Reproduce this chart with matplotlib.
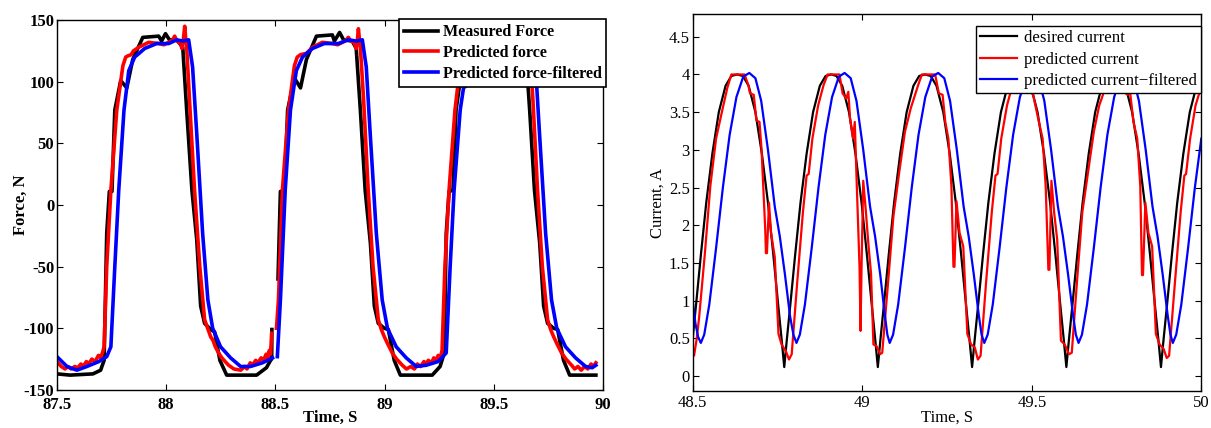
import numpy as np
import matplotlib

matplotlib.use("Agg")
import matplotlib.pyplot as plt

nan = np.nan

# ---- left panel: force (time s, force N) ----
force_measured = [
    (87.500, -137), (87.560, -138), (87.665, -137), (87.700, -134), (87.716, -126),
    (87.728, -23), (87.740, 11), (87.752, 11), (87.765, 77), (87.792, 101),
    (87.820, 95), (87.847, 118), (87.893, 136), (87.966, 137), (87.979, 133),
    (87.997, 139), (88.015, 134), (88.048, 134), (88.076, 128), (88.094, 77),
    (88.118, 12), (88.140, -28), (88.158, -82), (88.176, -96), (88.204, -101),
    (88.222, -103), (88.246, -126), (88.277, -138), (88.414, -138), (88.459, -132),
    (88.478, -126), (88.483, -125), (88.484, -101), (88.495, nan),
    (88.512, -60), (88.523, 11), (88.542, 11), (88.556, 77), (88.587, 103),
    (88.615, 95), (88.642, 118), (88.688, 137), (88.761, 138), (88.770, 133),
    (88.794, 140), (88.812, 134), (88.852, 133), (88.870, 127), (88.889, 77),
    (88.911, 12), (88.935, -31), (88.953, -82), (88.971, -96), (88.999, -100),
    (89.017, -101), (89.044, -126), (89.072, -138), (89.218, -138), (89.254, -131),
    (89.273, -120), (89.282, -23), (89.295, 11), (89.313, 12), (89.327, 77),
    (89.346, 101), (89.370, 96), (89.395, 118), (89.440, 137), (89.600, 137),
    (89.645, 127), (89.664, 77), (89.686, 12), (89.710, -31), (89.728, -82),
    (89.746, -96), (89.774, -100), (89.792, -101), (89.819, -126), (89.847, -138),
    (89.967, -138),
]
force_predicted = [
    (87.500, -127), (87.520, -131), (87.537, -133), (87.550, -131), (87.565, -133),
    (87.582, -131), (87.595, -132), (87.610, -129), (87.620, -131), (87.635, -127),
    (87.645, -129), (87.660, -125), (87.675, -127), (87.690, -122), (87.700, -124),
    (87.710, -119), (87.716, -115), (87.728, -50), (87.747, 12), (87.774, 77),
    (87.802, 113), (87.815, 120), (87.825, 121), (87.840, 122), (87.850, 125),
    (87.875, 128), (87.920, 132), (87.966, 131), (87.990, 130), (88.012, 132),
    (88.030, 134), (88.039, 137), (88.050, 133), (88.067, 131), (88.072, 127),
    (88.078, 133), (88.085, 145), (88.090, 134), (88.094, 128), (88.107, 85),
    (88.130, 12), (88.154, -50), (88.176, -93), (88.190, -100), (88.204, -107),
    (88.215, -110), (88.225, -115), (88.240, -120), (88.255, -124), (88.270, -127),
    (88.286, -130), (88.310, -133), (88.341, -134), (88.360, -131), (88.370, -133),
    (88.385, -128), (88.395, -130), (88.410, -126), (88.420, -128), (88.435, -124),
    (88.445, -126), (88.458, -121), (88.465, -124), (88.472, -118), (88.478, -121),
    (88.483, -104), (88.495, nan),
    (88.505, -100), (88.514, -77), (88.532, 12), (88.560, 77), (88.587, 113),
    (88.600, 120), (88.615, 122), (88.642, 123), (88.670, 128), (88.715, 132),
    (88.761, 131), (88.785, 130), (88.807, 132), (88.825, 134), (88.834, 136),
    (88.845, 133), (88.861, 132), (88.870, 127), (88.875, 133), (88.880, 143),
    (88.885, 134), (88.889, 128), (88.904, 85), (88.925, 12), (88.947, -50),
    (88.971, -93), (88.985, -101), (88.999, -107), (89.015, -113), (89.035, -120),
    (89.055, -125), (89.081, -130), (89.100, -133), (89.120, -131), (89.136, -133),
    (89.150, -129), (89.165, -131), (89.180, -127), (89.190, -129), (89.200, -126),
    (89.215, -128), (89.225, -124), (89.235, -126), (89.245, -122), (89.255, -124),
    (89.263, -118), (89.276, -50), (89.295, 12), (89.322, 77), (89.346, 113),
    (89.360, 121), (89.400, 128), (89.500, 131), (89.600, 132), (89.636, 132),
    (89.655, 143), (89.664, 128), (89.679, 85), (89.700, 12), (89.722, -50),
    (89.746, -93), (89.760, -101), (89.774, -107), (89.790, -113), (89.810, -120),
    (89.830, -125), (89.856, -130), (89.870, -133), (89.885, -131), (89.900, -134),
    (89.915, -131), (89.930, -133), (89.945, -129), (89.955, -131), (89.967, -128),
]
force_filtered = [
    (87.500, -123), (87.546, -131), (87.591, -134), (87.637, -131), (87.692, -127),
    (87.728, -123), (87.747, -115), (87.765, -50), (87.783, 12), (87.807, 77),
    (87.829, 109), (87.856, 120), (87.902, 127), (87.957, 131), (88.012, 131),
    (88.048, 134), (88.076, 133), (88.103, 134), (88.121, 112), (88.140, 58),
    (88.167, -23), (88.191, -77), (88.213, -100), (88.249, -115), (88.295, -124),
    (88.341, -131), (88.386, -131), (88.441, -128), (88.487, -124), (88.495, nan),
    (88.509, -123), (88.523, -77), (88.545, 12), (88.569, 77), (88.596, 109),
    (88.624, 120), (88.670, 127), (88.724, 131), (88.788, 131), (88.834, 134),
    (88.871, 133), (88.898, 134), (88.916, 112), (88.934, 58), (88.962, -23),
    (88.989, -77), (89.013, -100), (89.053, -115), (89.099, -124), (89.145, -131),
    (89.190, -130), (89.245, -127), (89.282, -120), (89.300, -50), (89.318, 12),
    (89.346, 77), (89.373, 109), (89.400, 120), (89.450, 127), (89.550, 131),
    (89.620, 133), (89.655, 134), (89.673, 134), (89.691, 112), (89.709, 58),
    (89.737, -23), (89.764, -77), (89.788, -100), (89.828, -115), (89.874, -124),
    (89.920, -131), (89.950, -132), (89.967, -130),
]

# ---- right panel: current (time s, current A) ----
current_desired = [
    (48.500, 0.50), (48.510, 0.95), (48.524, 1.60), (48.540, 2.30), (48.558, 2.95),
    (48.577, 3.50), (48.597, 3.85), (48.614, 3.98), (48.631, 4.00),
    (48.648, 3.98), (48.665, 3.85), (48.685, 3.50), (48.704, 2.95), (48.722, 2.30),
    (48.738, 1.60), (48.752, 0.95), (48.762, 0.50), (48.770, 0.12),
    (48.778, 0.50), (48.788, 0.95), (48.802, 1.60), (48.818, 2.30), (48.836, 2.95),
    (48.855, 3.50), (48.875, 3.85), (48.892, 3.98), (48.909, 4.00),
    (48.924, 3.98), (48.941, 3.85), (48.961, 3.50), (48.980, 2.95), (48.998, 2.30),
    (49.014, 1.60), (49.028, 0.95), (49.038, 0.50), (49.046, 0.12),
    (49.054, 0.50), (49.064, 0.95), (49.078, 1.60), (49.094, 2.30), (49.112, 2.95),
    (49.131, 3.50), (49.151, 3.85), (49.168, 3.98), (49.185, 4.00),
    (49.202, 3.98), (49.219, 3.85), (49.239, 3.50), (49.258, 2.95), (49.276, 2.30),
    (49.292, 1.60), (49.306, 0.95), (49.316, 0.50), (49.324, 0.12),
    (49.332, 0.50), (49.342, 0.95), (49.356, 1.60), (49.372, 2.30), (49.390, 2.95),
    (49.409, 3.50), (49.429, 3.85), (49.446, 3.98), (49.463, 4.00),
    (49.480, 3.98), (49.497, 3.85), (49.517, 3.50), (49.536, 2.95), (49.554, 2.30),
    (49.570, 1.60), (49.584, 0.95), (49.594, 0.50), (49.602, 0.12),
    (49.610, 0.50), (49.620, 0.95), (49.634, 1.60), (49.650, 2.30), (49.668, 2.95),
    (49.687, 3.50), (49.707, 3.85), (49.724, 3.98), (49.741, 4.00),
    (49.759, 3.98), (49.776, 3.85), (49.796, 3.50), (49.815, 2.95), (49.833, 2.30),
    (49.849, 1.60), (49.863, 0.95), (49.873, 0.50), (49.881, 0.12),
    (49.889, 0.50), (49.899, 0.95), (49.913, 1.60), (49.929, 2.30), (49.947, 2.95),
    (49.966, 3.50), (49.986, 3.85), (50.000, 3.93),
]
current_predicted = [
    (48.500, 0.30), (48.504, 0.27), (48.512, 0.50), (48.519, 0.78), (48.536, 1.63),
    (48.552, 2.52), (48.569, 3.15), (48.586, 3.50), (48.602, 3.82), (48.614, 4.00),
    (48.653, 4.00), (48.664, 3.86), (48.669, 3.75), (48.680, 3.73), (48.688, 3.39),
    (48.697, 3.37), (48.703, 3.01), (48.708, 2.52), (48.714, 1.94), (48.716, 1.63),
    (48.719, 1.63), (48.725, 2.30), (48.731, 1.90), (48.742, 1.58), (48.753, 0.56),
    (48.762, 0.42), (48.775, 0.33), (48.784, 0.22), (48.792, 0.29), (48.808, 1.23),
    (48.825, 2.17), (48.836, 2.66), (48.842, 2.68), (48.853, 3.15), (48.870, 3.59),
    (48.886, 3.86), (48.898, 4.00), (48.933, 4.00), (48.942, 3.75), (48.953, 3.68),
    (48.959, 3.77), (48.964, 3.42), (48.973, 3.15), (48.978, 3.37), (48.984, 2.52),
    (48.992, 1.45), (48.995, 0.60), (48.998, 1.45), (49.003, 2.59), (49.011, 2.17),
    (49.018, 1.76), (49.026, 1.36), (49.033, 0.42), (49.042, 0.40), (49.053, 0.29),
    (49.059, 0.31), (49.076, 1.23), (49.092, 2.12), (49.109, 2.70), (49.126, 3.24),
    (49.143, 3.55), (49.165, 3.86), (49.176, 4.00), (49.215, 4.00), (49.226, 3.75),
    (49.237, 3.73), (49.245, 3.37), (49.254, 3.15), (49.263, 2.52), (49.269, 1.45),
    (49.272, 1.45), (49.278, 2.32), (49.287, 1.90), (49.298, 1.72), (49.310, 0.56),
    (49.321, 0.42), (49.332, 0.38), (49.341, 0.22), (49.349, 0.27), (49.365, 1.23),
    (49.382, 2.17), (49.393, 2.66), (49.399, 2.68), (49.410, 3.15), (49.427, 3.59),
    (49.443, 3.86), (49.454, 4.00), (49.488, 4.00), (49.495, 3.78), (49.504, 3.73),
    (49.521, 3.37), (49.532, 3.15), (49.541, 2.52), (49.549, 1.41), (49.552, 1.41),
    (49.558, 2.59), (49.566, 2.17), (49.575, 1.81), (49.586, 0.47), (49.597, 0.42),
    (49.610, 0.29), (49.618, 0.31), (49.633, 1.23), (49.649, 2.17), (49.666, 2.70),
    (49.683, 3.24), (49.699, 3.59), (49.720, 3.86), (49.733, 4.00), (49.765, 4.00),
    (49.774, 3.76), (49.783, 3.73), (49.790, 3.76), (49.800, 3.37), (49.811, 3.15),
    (49.820, 2.52), (49.825, 1.34), (49.828, 1.34), (49.835, 2.30), (49.844, 1.90),
    (49.855, 1.72), (49.866, 0.56), (49.877, 0.42), (49.889, 0.36), (49.898, 0.24),
    (49.905, 0.27), (49.922, 1.23), (49.939, 2.17), (49.950, 2.66), (49.955, 2.68),
    (49.967, 3.15), (49.983, 3.59), (50.000, 3.84),
]
current_filtered = [
    (48.500, 1.00), (48.508, 0.70), (48.516, 0.52), (48.524, 0.44),
    (48.534, 0.55), (48.549, 0.95), (48.569, 1.70), (48.589, 2.50), (48.609, 3.20),
    (48.629, 3.70), (48.649, 3.97), (48.667, 4.02),
    (48.685, 3.95), (48.702, 3.65), (48.722, 3.00), (48.742, 2.25), (48.757, 1.85),
    (48.772, 1.35), (48.787, 0.80), (48.797, 0.55), (48.806, 0.44),
    (48.816, 0.55), (48.831, 0.95), (48.851, 1.70), (48.871, 2.50), (48.891, 3.20),
    (48.911, 3.70), (48.931, 3.97), (48.948, 4.02),
    (48.966, 3.95), (48.983, 3.65), (49.003, 3.00), (49.023, 2.25), (49.038, 1.85),
    (49.053, 1.35), (49.067, 0.80), (49.074, 0.55), (49.081, 0.44),
    (49.091, 0.55), (49.106, 0.95), (49.126, 1.70), (49.146, 2.50), (49.166, 3.20),
    (49.186, 3.70), (49.206, 3.97), (49.224, 4.02),
    (49.242, 3.95), (49.259, 3.65), (49.279, 3.00), (49.299, 2.25), (49.314, 1.85),
    (49.329, 1.35), (49.344, 0.80), (49.352, 0.55), (49.360, 0.44),
    (49.370, 0.55), (49.385, 0.95), (49.405, 1.70), (49.425, 2.50), (49.445, 3.20),
    (49.465, 3.70), (49.485, 3.97), (49.502, 4.02),
    (49.520, 3.95), (49.537, 3.65), (49.557, 3.00), (49.577, 2.25), (49.592, 1.85),
    (49.607, 1.35), (49.622, 0.80), (49.630, 0.55), (49.638, 0.44),
    (49.648, 0.55), (49.663, 0.95), (49.683, 1.70), (49.703, 2.50), (49.723, 3.20),
    (49.743, 3.70), (49.763, 3.97), (49.781, 4.02),
    (49.799, 3.95), (49.816, 3.65), (49.836, 3.00), (49.856, 2.25), (49.871, 1.85),
    (49.886, 1.35), (49.901, 0.80), (49.909, 0.55), (49.916, 0.44),
    (49.926, 0.55), (49.941, 0.95), (49.961, 1.70), (49.981, 2.50), (50.000, 3.15),
]

force_labels = ["Measured Force", "Predicted force", "Predicted force-filtered"]
current_labels = ["desired current", "predicted current", "predicted current\u2212filtered"]
force_xticks = [87.5, 88, 88.5, 89, 89.5, 90]
force_xticklabels = ["87.5", "88", "88.5", "89", "89.5", "90"]
force_yticks = [-150, -100, -50, 0, 50, 100, 150]
force_yticklabels = ["-150", "-100", "-50", "0", "50", "100", "150"]
current_xticks = [48.5, 49, 49.5, 50]
current_xticklabels = ["48.5", "49", "49.5", "50"]
current_yticks = [0, 0.5, 1, 1.5, 2, 2.5, 3, 3.5, 4, 4.5]
current_yticklabels = ["0", "0.5", "1", "1.5", "2", "2.5", "3", "3.5", "4", "4.5"]

COLORS = ["#000000", "#FF0000", "#0000FF"]

plt.rcParams["font.family"] = ["Liberation Serif", "DejaVu Serif"]

fig = plt.figure(figsize=(12.11, 4.28), dpi=100)
fig.patch.set_facecolor("white")

ax1 = fig.add_axes([0.047, 0.089, 0.451, 0.864])
ax2 = fig.add_axes([0.572, 0.086, 0.420, 0.881])


def style_axes(ax, bold, xpad):
    weight = "bold" if bold else "normal"
    ax.tick_params(direction="in", top=True, right=True, length=4, width=0.8,
                   labelsize=12, pad=2, colors="black")
    ax.tick_params(axis="x", pad=xpad)
    for lab in ax.get_xticklabels() + ax.get_yticklabels():
        lab.set_fontweight(weight)
    for s in ax.spines.values():
        s.set_linewidth(1.0)
        s.set_color("black")


for data, col in zip([force_measured, force_predicted, force_filtered], COLORS):
    arr = np.array(data, dtype=float)
    ax1.plot(arr[:, 0], arr[:, 1], color=col, linewidth=2.6, solid_joinstyle="round")
ax1.set_xlim(87.5, 90)
ax1.set_ylim(-150, 150)
ax1.set_xticks(force_xticks)
ax1.set_xticklabels(force_xticklabels)
ax1.set_yticks(force_yticks)
ax1.set_yticklabels(force_yticklabels)
style_axes(ax1, True, 5)
ax1.set_xlabel("Time, S", fontsize=12, fontweight="bold", labelpad=-2)
ax1.set_ylabel("Force, N", fontsize=12, fontweight="bold")
ax1.yaxis.set_label_coords(-0.052, 0.5)
leg1 = ax1.legend(force_labels, loc="upper right", bbox_to_anchor=(1.006, 1.002),
                  fancybox=False, edgecolor="black", framealpha=1,
                  prop={"weight": "bold", "size": 11.6}, handlelength=2.1,
                  borderpad=0.3, labelspacing=0.3, handletextpad=0.3, borderaxespad=0)
leg1.get_frame().set_linewidth(1.2)

for data, col in zip([current_desired, current_predicted, current_filtered], COLORS):
    arr = np.array(data, dtype=float)
    ax2.plot(arr[:, 0], arr[:, 1], color=col, linewidth=1.6)
ax2.set_xlim(48.5, 50)
ax2.set_ylim(-0.2, 4.8)
ax2.set_xticks(current_xticks)
ax2.set_xticklabels(current_xticklabels)
ax2.set_yticks(current_yticks)
ax2.set_yticklabels(current_yticklabels)
style_axes(ax2, False, 3)
ax2.set_xlabel("Time, S", fontsize=12, labelpad=-1)
ax2.set_ylabel("Current, A", fontsize=12, labelpad=2)
leg2 = ax2.legend(current_labels, loc="upper right", bbox_to_anchor=(1.0, 0.968),
                  fancybox=False, edgecolor="black", framealpha=1,
                  prop={"size": 12.2}, handlelength=2.2,
                  borderpad=0.25, labelspacing=0.3, handletextpad=0.4, borderaxespad=0)
leg2.get_frame().set_linewidth(1.0)

fig.savefig("out.png", dpi=100, facecolor="white")
